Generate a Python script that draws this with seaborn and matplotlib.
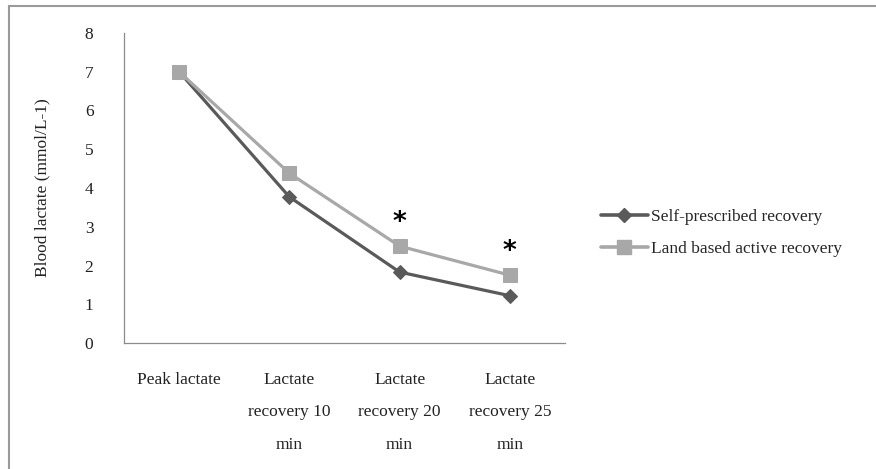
import pandas as pd
import numpy as np
import matplotlib
matplotlib.use("Agg")
import matplotlib.pyplot as plt
import seaborn as sns
from matplotlib.lines import Line2D

# data
stages = ["Peak lactate", "Lactate\nrecovery 10\nmin", "Lactate\nrecovery 20\nmin", "Lactate\nrecovery 25\nmin"]
self_prescribed = [7.0, 3.77, 1.83, 1.22]
land_based = [7.0, 4.38, 2.50, 1.75]
significant = [False, False, True, True]
series_names = ["Self-prescribed recovery", "Land based active recovery"]

df = pd.DataFrame({
    "stage": list(range(len(stages))) * 2,
    "lactate": self_prescribed + land_based,
    "group": [series_names[0]] * len(stages) + [series_names[1]] * len(stages),
})

sns.set_style("white")
plt.rcParams["font.family"] = ["Liberation Serif", "DejaVu Serif"]

fig = plt.figure(figsize=(8.76, 4.69), dpi=100)
ax = fig.add_axes([124 / 876, 1 - 343 / 469, (565 - 124) / 876, (343 - 33) / 469])

colors = {series_names[0]: "#5a5a5a", series_names[1]: "#a8a8a8"}
markers = {series_names[0]: "D", series_names[1]: "s"}
sizes = {series_names[0]: 7.5, series_names[1]: 10.5}
fs = 12.5

for name in series_names:
    sub = df[df["group"] == name]
    sns.lineplot(data=sub, x="stage", y="lactate", color=colors[name],
                 marker=markers[name], markersize=sizes[name],
                 markeredgecolor=colors[name], linewidth=2.3, ax=ax, legend=False)

# significance stars above land-based values
for i, sig in enumerate(significant):
    if sig:
        ax.annotate("*", (i, land_based[i]), xytext=(0, 7), textcoords="offset points",
                    ha="center", va="bottom", fontsize=19, color="black",
                    family="DejaVu Sans", fontweight="bold")

ax.set_xlim(-0.5, 3.5)
ax.set_ylim(0, 8)
ax.set_yticks(range(0, 9))
ax.set_xticks(range(len(stages)))
ax.set_xticklabels(stages, fontsize=fs, color="#222222")
for lbl in ax.get_xticklabels():
    lbl.set_linespacing(2.35)
ax.tick_params(axis="x", length=0, pad=21)
ax.tick_params(axis="y", length=0, pad=22, labelsize=fs, labelcolor="#222222")
ax.set_xlabel("")
ax.set_ylabel("Blood lactate (mmol/L-1)", fontsize=fs, color="#222222", labelpad=25)

for side in ["top", "right"]:
    ax.spines[side].set_visible(False)
for side in ["left", "bottom"]:
    ax.spines[side].set_color("#8c8c8c")
    ax.spines[side].set_linewidth(0.9)

handles = [Line2D([0], [0], color=colors[n], marker=markers[n], markersize=sizes[n],
                  markeredgecolor=colors[n], linewidth=2.6) for n in series_names]
fig.legend(handles, series_names, loc="center left", bbox_to_anchor=(585 / 876, 1 - 233 / 469),
           frameon=False, fontsize=fs, handlelength=2.75, handletextpad=0.15,
           labelspacing=0.9)

# outer frame (left and top edges visible)
fig.add_artist(Line2D([9 / 876, 9 / 876], [0, 1 - 6 / 469], color="#9a9a9a", linewidth=1.5,
                      transform=fig.transFigure))
fig.add_artist(Line2D([9 / 876, 1], [1 - 6 / 469, 1 - 6 / 469], color="#9a9a9a", linewidth=1.5,
                      transform=fig.transFigure))

fig.savefig("out.png", dpi=100)
